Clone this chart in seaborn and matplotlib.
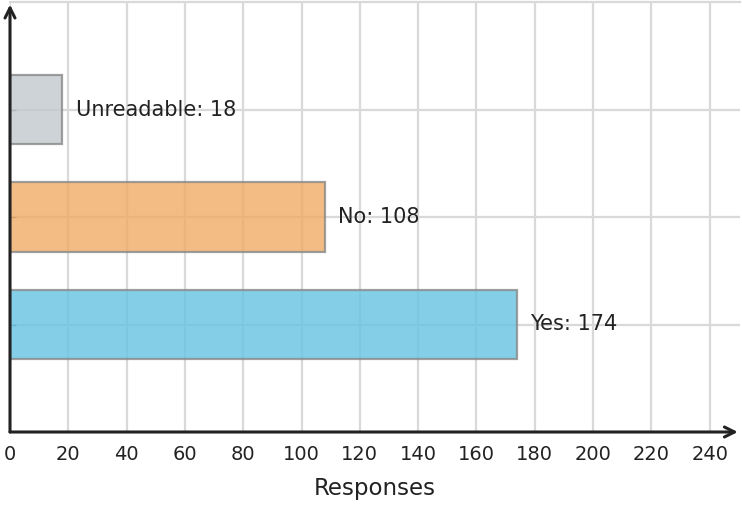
import matplotlib
matplotlib.use("Agg")
import matplotlib.pyplot as plt
import seaborn as sns
import pandas as pd

categories = ["Unreadable", "No", "Yes"]
values = [18, 108, 174]
colors = ["#c1c8cd", "#f0ab65", "#65c4e2"]
x_ticks = list(range(0, 241, 20))
x_label = "Responses"

sns.set_theme(style="white")
plt.rcParams['font.family'] = ['DejaVu Sans']

df = pd.DataFrame({"category": categories, "value": values})

fig = plt.figure(figsize=(7.42, 5.08), dpi=100)
ax = fig.add_axes([10/742, (508-432)/508, 730/742, 430/508])

sns.barplot(data=df, x="value", y="category", hue="category", order=categories,
            hue_order=categories, palette=colors, orient="h", width=0.645,
            saturation=1, alpha=0.8, edgecolor="#888888", linewidth=1.6,
            legend=False, ax=ax, zorder=3)

ax.set_xlim(0, 250.4)
ax.set_ylim(3, -1)
ax.set_xticks(x_ticks)
ax.set_xticklabels([str(t) for t in x_ticks], fontsize=14, color="#222222")
ax.set_yticks([0, 1, 2])
ax.set_yticklabels([])
ax.set_ylabel("")
ax.set_xlabel(x_label, fontsize=16.5, color="#222222", labelpad=10)

ax.set_axisbelow(True)
ax.grid(True, axis="both", color="#d9d9d9", linewidth=1.6)
ax.tick_params(axis="x", direction="in", length=8, width=2, color="#222222", pad=9)
ax.tick_params(axis="y", direction="in", length=4, width=1, color="#777777", left=True)

for s in ["left", "bottom", "right"]:
    ax.spines[s].set_visible(False)
ax.spines["top"].set_color("#d9d9d9")
ax.spines["top"].set_linewidth(1.6)

ax.annotate("", xy=(0.997, 0), xytext=(0, 0), xycoords="axes fraction",
            arrowprops=dict(arrowstyle="->", lw=2.2, color="#222222", mutation_scale=18,
                            shrinkA=0, shrinkB=0), annotation_clip=False)
ax.annotate("", xy=(0, 0.994), xytext=(0, 0), xycoords="axes fraction",
            arrowprops=dict(arrowstyle="->", lw=2.2, color="#222222", mutation_scale=18,
                            shrinkA=0, shrinkB=0), annotation_clip=False)

for i, (c, v) in enumerate(zip(categories, values)):
    ax.text(v + 4.5, i, f"{c}: {v}", ha="left", va="center", fontsize=15, color="#222222")

fig.savefig("out.png", dpi=100)
